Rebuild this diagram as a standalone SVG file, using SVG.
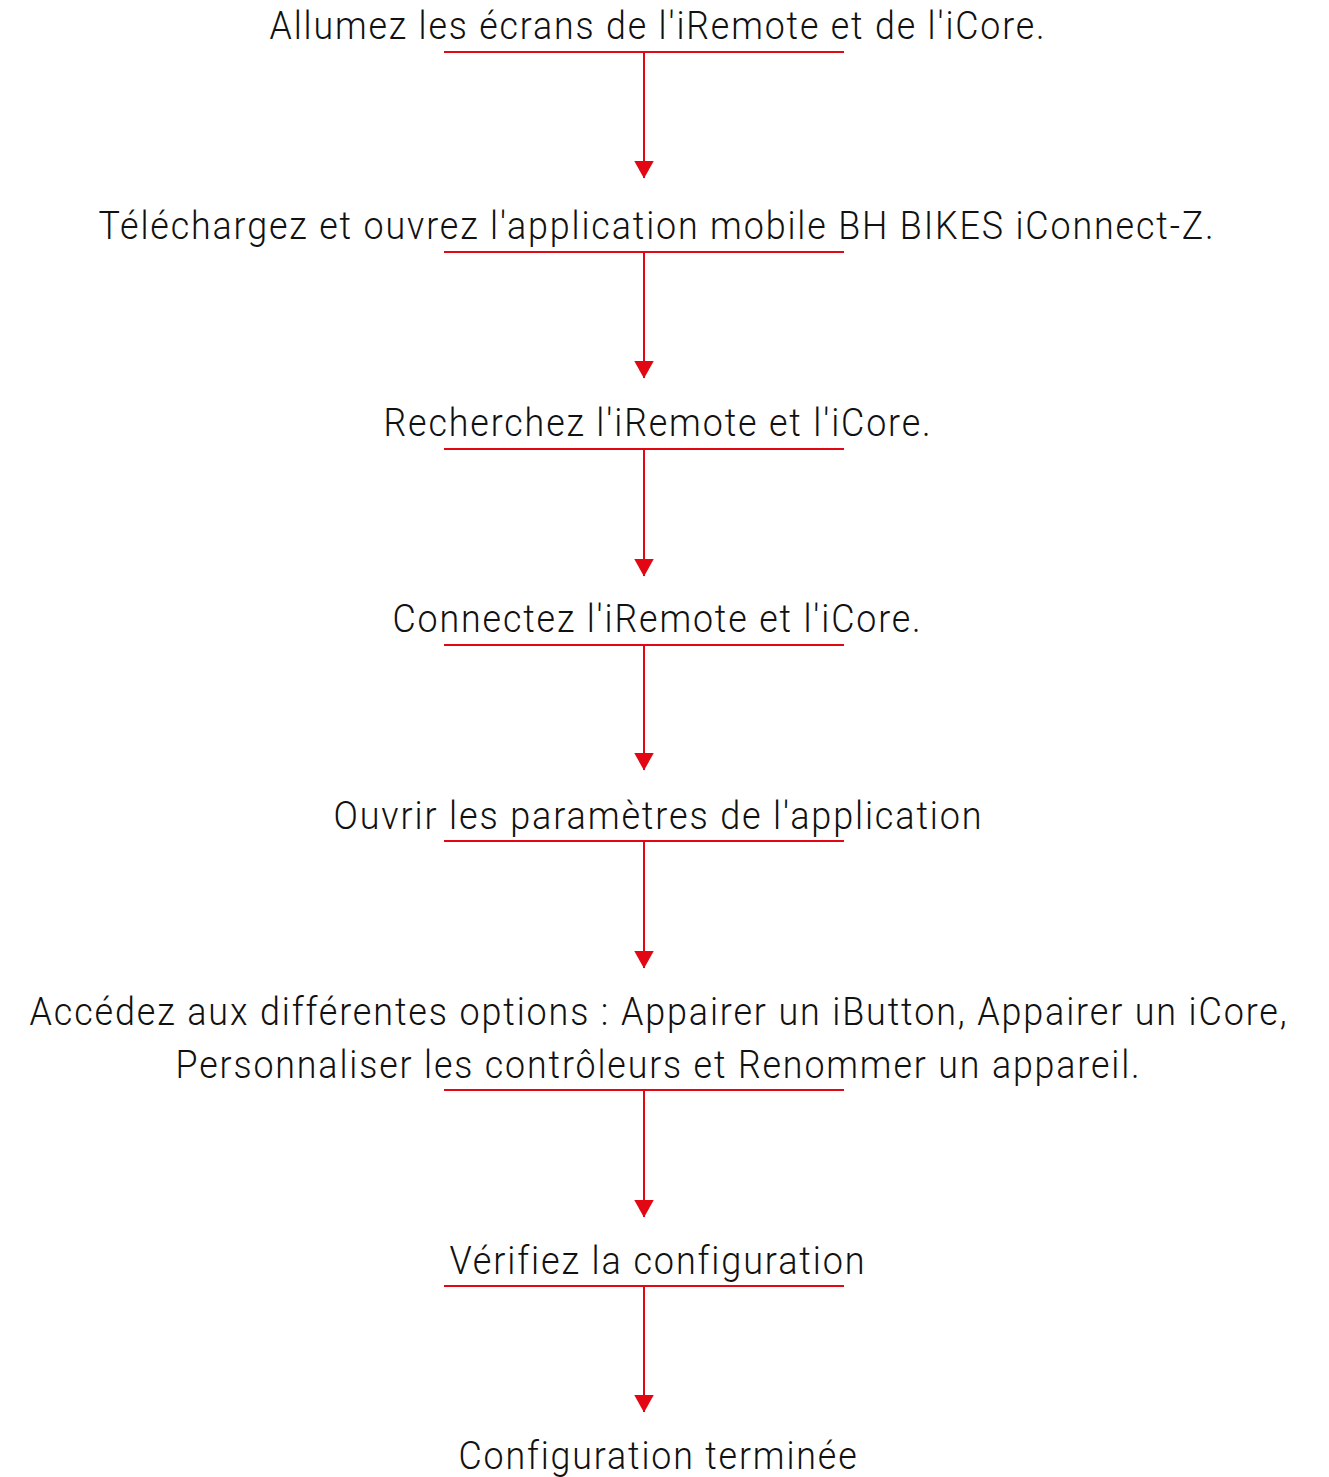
<svg xmlns="http://www.w3.org/2000/svg" width="1329" height="1477" viewBox="0 0 1329 1477">
<defs>
<style>
.t{font-family:Roboto,"Liberation Sans",sans-serif;font-weight:300;font-size:38.5px;fill:#111111;letter-spacing:2px;text-anchor:middle}
.u{stroke:#e30613;stroke-width:2;fill:none}
.a{stroke:#e30613;stroke-width:2;fill:none;marker-end:url(#ah)}
</style>
<marker id="ah" viewBox="0 0 18 20" refX="17.5" refY="10" markerWidth="18" markerHeight="20" markerUnits="userSpaceOnUse" orient="auto">
<path d="M0,0 L18,10 L0,20 z" fill="#e30613"/>
</marker>
</defs>
<rect width="1329" height="1477" fill="#ffffff"/>
<g id="n1"><text class="t" x="658" y="39" textLength="777" lengthAdjust="spacingAndGlyphs">Allumez les écrans de l'iRemote et de l'iCore.</text></g>
<g id="n2"><text class="t" x="657" y="239" textLength="1117" lengthAdjust="spacingAndGlyphs">Téléchargez et ouvrez l'application mobile BH BIKES iConnect-Z.</text></g>
<g id="n3"><text class="t" x="658" y="436" textLength="549" lengthAdjust="spacingAndGlyphs">Recherchez l'iRemote et l'iCore.</text></g>
<g id="n4"><text class="t" x="657.5" y="632" textLength="530" lengthAdjust="spacingAndGlyphs">Connectez l'iRemote et l'iCore.</text></g>
<g id="n5"><text class="t" x="658.5" y="829" textLength="650" lengthAdjust="spacingAndGlyphs">Ouvrir les paramètres de l'application</text></g>
<g id="n6">
<text class="t" x="659" y="1025" textLength="1259" lengthAdjust="spacingAndGlyphs">Accédez aux différentes options : Appairer un iButton, Appairer un iCore,</text>
<text class="t" x="658.5" y="1078" textLength="966" lengthAdjust="spacingAndGlyphs">Personnaliser les contrôleurs et Renommer un appareil.</text>
</g>
<g id="n7"><text class="t" x="658" y="1274" textLength="417" lengthAdjust="spacingAndGlyphs">Vérifiez la configuration</text></g>
<g id="n8"><text class="t" x="658.5" y="1469" textLength="400" lengthAdjust="spacingAndGlyphs">Configuration terminée</text></g>
<g id="connectors">
<line class="u" x1="444" y1="52" x2="844" y2="52"/><line class="a" x1="644" y1="52" x2="644" y2="178"/>
<line class="u" x1="444" y1="252" x2="844" y2="252"/><line class="a" x1="644" y1="252" x2="644" y2="378"/>
<line class="u" x1="444" y1="449" x2="844" y2="449"/><line class="a" x1="644" y1="449" x2="644" y2="576"/>
<line class="u" x1="444" y1="645" x2="844" y2="645"/><line class="a" x1="644" y1="645" x2="644" y2="770"/>
<line class="u" x1="444" y1="841" x2="844" y2="841"/><line class="a" x1="644" y1="841" x2="644" y2="968"/>
<line class="u" x1="444" y1="1090" x2="844" y2="1090"/><line class="a" x1="644" y1="1090" x2="644" y2="1217"/>
<line class="u" x1="444" y1="1286" x2="844" y2="1286"/><line class="a" x1="644" y1="1286" x2="644" y2="1412"/>
</g>
</svg>
